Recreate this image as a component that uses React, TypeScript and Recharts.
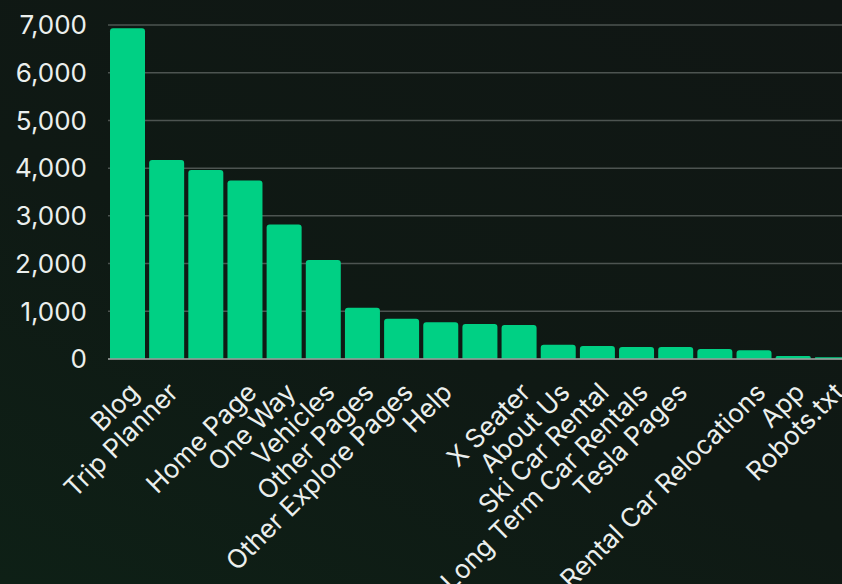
import { BarChart, Bar, XAxis, YAxis, CartesianGrid } from 'recharts';

// Page labels, in bar order (three bars show no label in the source)
const pages = [
  'Blog', 'Trip Planner', '', 'Home Page', 'One Way', 'Vehicles', 'Other Pages',
  'Other Explore Pages', 'Help', '', 'X Seater', 'About Us', 'Ski Car Rental',
  'Long Term Car Rentals', 'Tesla Pages', '', 'Rental Car Relocations', 'App', 'Robots.txt',
];

const visits = [
  6930, 4170, 3960, 3740, 2820, 2075, 1075,
  845, 770, 735, 712, 300, 272,
  252, 250, 212, 185, 63, 36,
];

const yTicks = [0, 1000, 2000, 3000, 4000, 5000, 6000, 7000];

const FONT = 'Inter, sans-serif';
const TEXT = '#ebefed';

const data = visits.map((v, i) => ({ idx: i, visits: v }));

export default function App() {
  return (
    <div
      style={{
        position: 'absolute',
        left: 0,
        top: 0,
        width: 842,
        height: 584,
        overflow: 'hidden',
        background: 'linear-gradient(25deg, #0e2016 0%, #0f1914 45%, #101614 100%)',
        fontFamily: FONT,
      }}
    >
      <BarChart
        width={852}
        height={584}
        data={data}
        margin={{ top: 25, right: 0, bottom: 0, left: 0 }}
        barCategoryGap={2}
      >
        <CartesianGrid vertical={false} stroke="#4d5451" strokeWidth={1.5} />
        <XAxis
          dataKey="idx"
          type="category"
          interval={0}
          height={225}
          tickLine={false}
          axisLine={{ stroke: '#9a9d9b', strokeWidth: 1.5 }}
          tickMargin={16}
          angle={-45}
          textAnchor="end"
          tick={{ fontSize: 26, fill: TEXT, fontFamily: FONT }}
          tickFormatter={(i: number) => pages[i]}
        />
        <YAxis
          width={108}
          domain={[0, 7000]}
          ticks={yTicks}
          axisLine={false}
          tickLine={false}
          tickMargin={15}
          tick={{ fontSize: 26, fill: TEXT, fontFamily: FONT }}
          tickFormatter={(v: number) => v.toLocaleString('en-US')}
        />
        <Bar dataKey="visits" fill="#00d084" radius={[3, 3, 0, 0]} isAnimationActive={false} />
      </BarChart>
    </div>
  );
}
